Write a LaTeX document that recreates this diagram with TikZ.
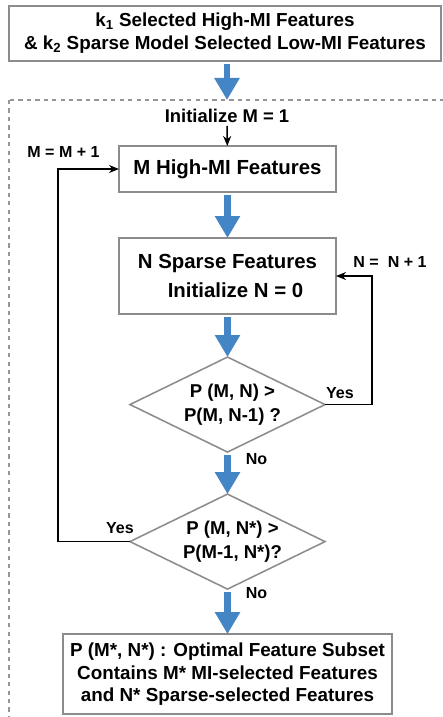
\documentclass[tikz,border=0pt]{standalone}
\usepackage{fontspec}
\setmainfont{Liberation Sans}
\usepackage{xcolor}
\usepackage{tikz}
\usetikzlibrary{positioning, shapes.geometric, arrows.meta}
\definecolor{flowblue}{RGB}{68, 133, 198}
\definecolor{boxgray}{RGB}{140, 140, 140}
\definecolor{dashgray}{RGB}{150, 150, 150}

\begin{document}
\begin{tikzpicture}[
    x=0.025cm, y=-0.025cm,
    node distance=1.15cm,
    font=\fontsize{14.5}{16.5}\selectfont\bfseries,
    box/.style={rectangle, draw=boxgray, line width=1.1pt, align=center, inner sep=0pt,
                outer sep=0pt},
    bigbox/.style={box, font=\fontsize{13.4}{16.3}\selectfont\bfseries},
    decision/.style={diamond, draw=boxgray, line width=1.1pt, aspect=2.05, align=center,
                     inner sep=-4pt, outer sep=0pt, minimum width=4.875cm, minimum height=2.375cm,
                     font=\fontsize{13.2}{17}\selectfont\bfseries},
    flow/.style={-{Triangle[length=0.55cm, width=0.6cm]}, line width=0.17cm, draw=flowblue,
                 shorten <=0.08cm},
    loop/.style={-{Stealth[length=0.25cm, width=0.2cm]}, line width=1.1pt},
    label/.style={inner sep=2pt},
    tag/.style={inner sep=1pt, font=\fontsize{11.4}{13}\selectfont\bfseries}
]
    \useasboundingbox (0,0) rectangle (442,717);

    % Input and search frame
    \node[bigbox, minimum width=10.8cm, minimum height=1.375cm] (input) at (225,33.5)
        {k\textsubscript{1} Selected High-MI Features\\
         \& k\textsubscript{2} Sparse Model Selected Low-MI Features};
    \draw[dashgray, dashed, dash pattern=on 3pt off 3pt, line width=0.9pt]
        (9,100) rectangle (460,740);
    \coordinate (entry) at (227,100);

    % Main flow
    \node[label, font=\fontsize{13.1}{16}\selectfont\bfseries] (initm) at (227,116)
        {Initialize M = 1};
    \node[box, minimum width=5.425cm, minimum height=1.15cm] (mbox) at (227.5,169)
        {M High-MI Features};
    \node[box, minimum width=5.425cm, minimum height=1.9cm, below=1.15cm of mbox] (nbox)
        {N Sparse Features\\[4pt] \hspace*{0.4cm}Initialize N = 0};
    \node[decision, below=1.075cm of nbox] (testn)
        {\hspace*{0.25cm}P (M, N) >\\ \hspace*{0.25cm}P(M, N-1) ?};
    \node[decision, below=1.05cm of testn] (testm)
        {\hspace*{0.25cm}P (M, N*) >\\ \hspace*{0.25cm}P(M-1, N*)?};
    \node[bigbox, minimum width=8.225cm, minimum height=2cm, below=1.125cm of testm] (result)
        {P (M*, N*) : Optimal Feature Subset\\
         Contains M* MI-selected Features\\
         and N* Sparse-selected Features};

    % Labels
    \node[tag] (mstep) at (63.5,152) {M = M + 1};
    \node[tag] (nstep) at (390,262) {N = \ N + 1};
    \node[tag] (yesn) at (340,393) {Yes};
    \node[tag] (yesm) at (120,528) {Yes};
    \node[tag] (non) at (256.5,459) {No};
    \node[tag] (nom) at (256.5,593) {No};

    % Arrows
    \draw[flow] (input.south -| entry) -- (entry);
    \draw[loop] (initm) -- (mbox);
    \draw[flow] (mbox) -- (nbox);
    \draw[flow] (nbox) -- (testn);
    \draw[flow] (testn) -- (testm);
    \draw[flow] (testm) -- (result);

    % Loops
    \draw[loop] (testn.east) -- ++(47,0) |- (nbox.east);
    \draw[loop] (testm.west) -- ++(-72,0) |- (mbox.west);
\end{tikzpicture}
\end{document}
